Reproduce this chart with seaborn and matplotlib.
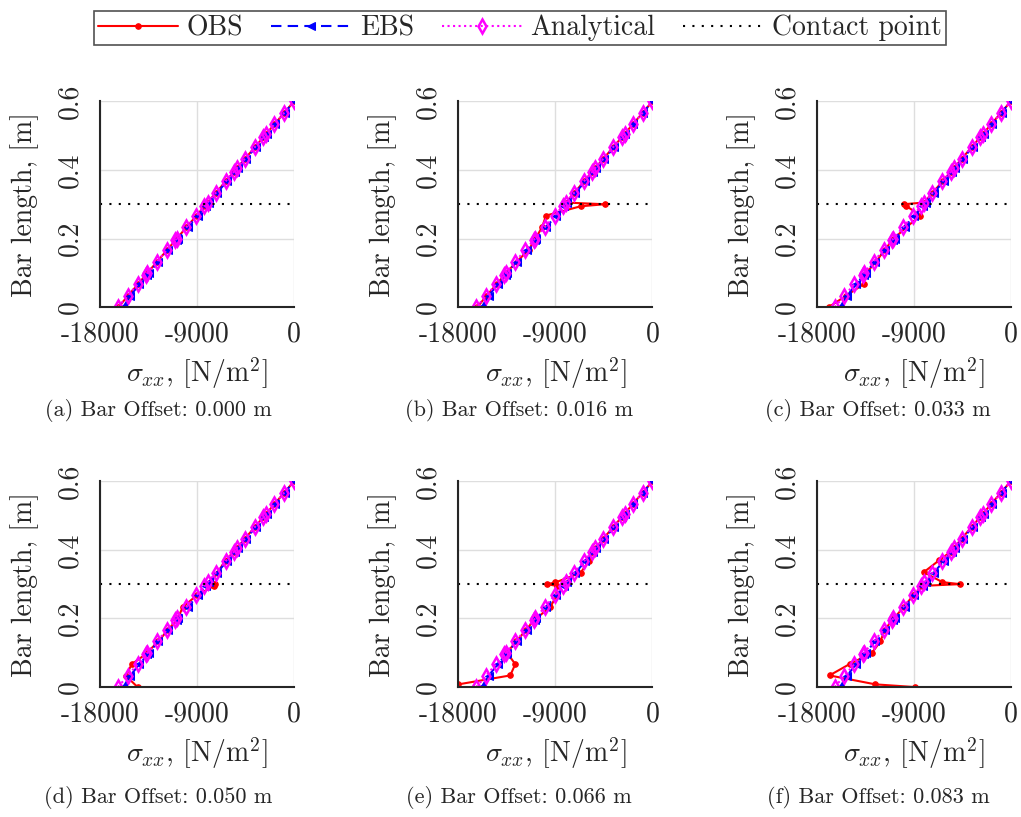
import matplotlib
matplotlib.use('Agg')
import matplotlib.pyplot as plt
import seaborn as sns

# bar nodes (m) and stress values (N/m^2)
y_nodes = [0, 0.033, 0.067, 0.095, 0.1, 0.133, 0.167, 0.195, 0.2, 0.233, 0.267, 0.295,
           0.305, 0.333, 0.367, 0.395, 0.405, 0.433, 0.467, 0.495, 0.505, 0.533, 0.567, 0.6]
analytical_x = [-16340, -15440, -14520, -13750, -13620, -12720, -11790, -11030, -10890, -9990,
                -9070, -8310, -8030, -7270, -6350, -5580, -5310, -4550, -3620, -2860, -2590,
                -1830, -900, 0]
ebs_x = [-15850, -15200, -14350, -13600, -13480, -12580, -11650, -10900, -10760, -9860, -8940,
         -8180, -7900, -7150, -6230, -5470, -5200, -4450, -3530, -2780, -2510, -1760, -860, 0]

upper_y = [0.333, 0.367, 0.395, 0.405, 0.433, 0.467, 0.495, 0.505, 0.533, 0.567, 0.6]
upper_x = [-7260, -6330, -5570, -5300, -4540, -3610, -2850, -2580, -1820, -890, 0]

obs_a_y = y_nodes
obs_a_x = [-16300, -15420, -14480, -13740, -13600, -12700, -11770, -11010, -10880, -9980, -9050,
           -8280, -8040, -7260, -6330, -5570, -5300, -4540, -3610, -2850, -2580, -1820, -890, 0]

obs_b_y = [0, 0.033, 0.067, 0.095, 0.1, 0.133, 0.167, 0.195, 0.2, 0.233, 0.267, 0.294, 0.3, 0.305] + upper_y
obs_b_x = [-16250, -15400, -14450, -13700, -13550, -12600, -11450, -11000, -10850, -10240,
           -9870, -6670, -4440, -8030] + upper_x

obs_c_y = [0, 0.033, 0.067, 0.095, 0.1, 0.133, 0.167, 0.195, 0.2, 0.233, 0.267, 0.295, 0.3, 0.305] + upper_y
obs_c_x = [-16910, -15300, -13660, -13500, -13400, -12500, -11700, -11000, -10850, -9700,
           -8380, -9700, -9930, -8050] + upper_x

obs_d_y = [0, 0.033, 0.067, 0.095, 0.1, 0.133, 0.167, 0.195, 0.2, 0.233, 0.267, 0.295, 0.3, 0.305,
           0.333, 0.367, 0.395, 0.405, 0.433, 0.467, 0.495, 0.505, 0.533, 0.567, 0.6]
obs_d_x = [-14520, -15600, -15050, -13800, -13650, -12600, -11700, -10900, -10800, -10320,
           -9050, -7400, -7370, -7700, -7100, -6430, -5580, -5310, -4550, -3620, -2860, -2590,
           -1830, -900, 0]

obs_e_y = [0.008, 0.034, 0.067, 0.1, 0.133, 0.167, 0.195, 0.2, 0.233, 0.267, 0.295, 0.3, 0.305,
           0.333, 0.367, 0.395, 0.405, 0.433, 0.467, 0.495, 0.505, 0.533, 0.567, 0.6]
obs_e_x = [-18000, -13190, -12725, -13500, -12650, -11700, -11000, -10800, -9470, -8900, -8900,
           -9780, -9000, -6670, -5900, -5450, -5250, -4550, -3620, -2860, -2590, -1830, -900, 0]

obs_f_y = [0, 0.008, 0.034, 0.067, 0.1, 0.133, 0.167, 0.195, 0.2, 0.233, 0.267, 0.295, 0.3, 0.306,
           0.335, 0.369, 0.395, 0.405, 0.433, 0.467, 0.495, 0.505, 0.533, 0.567, 0.6]
obs_f_x = [-8850, -12570, -16820, -14960, -12880, -12100, -11700, -11000, -10850, -9950, -9050,
           -8200, -4720, -6360, -8070, -6670, -5550, -5300, -4550, -3620, -2860, -2590, -1830,
           -900, 0]

obs_y_all = [obs_a_y, obs_b_y, obs_c_y, obs_d_y, obs_e_y, obs_f_y]
obs_x_all = [obs_a_x, obs_b_x, obs_c_x, obs_d_x, obs_e_x, obs_f_x]
offsets = ['0.000', '0.016', '0.033', '0.050', '0.066', '0.083']
letters = ['a', 'b', 'c', 'd', 'e', 'f']
contact_y = 0.3
x_ticks = [-18000, -9000, 0]
x_ticklabels = ['-18000', '-9000', '0']
y_ticks = [0, 0.2, 0.4, 0.6]
y_ticklabels = ['0', '0.2', '0.4', '0.6']

sns.set_style('white')
plt.rcParams['font.family'] = ['cmr10', 'DejaVu Serif']
plt.rcParams['mathtext.fontset'] = 'cm'
plt.rcParams['axes.unicode_minus'] = False

fig = plt.figure(figsize=(10.21, 8.17), dpi=100)

lefts = [0.098, 0.449, 0.800]
bottoms = [0.624, 0.159]
caption_x = [0.155, 0.508, 0.860]
caption_y = [0.497, 0.024]

for i in range(6):
    row, col = divmod(i, 3)
    ax = fig.add_axes([lefts[col], bottoms[row], 0.190, 0.252])
    sns.lineplot(x=obs_x_all[i], y=obs_y_all[i], sort=False, estimator=None, ax=ax,
                 color='red', lw=1.5, marker='o', markersize=4, mec='red', label='OBS')
    sns.lineplot(x=ebs_x, y=y_nodes, sort=False, estimator=None, ax=ax,
                 color='blue', lw=1.5, ls=(0, (5, 3)), marker='<', markersize=6, mec='blue',
                 label='EBS')
    sns.lineplot(x=analytical_x, y=y_nodes, sort=False, estimator=None, ax=ax,
                 color='magenta', lw=1.5, ls=':', marker='d', markersize=7, mfc='none',
                 mec='magenta', mew=1.8, label='Analytical')
    ax.axhline(contact_y, color='black', lw=1.5, ls=(0, (1, 3.5)), label='Contact point')

    ax.set_xlim(-18000, 0)
    ax.set_ylim(0, 0.6)
    ax.set_xticks(x_ticks)
    ax.set_xticklabels(x_ticklabels)
    ax.set_yticks(y_ticks)
    ax.set_yticklabels(y_ticklabels, rotation=90, va='center')
    ax.grid(True, color='0.87', lw=1)
    ax.tick_params(labelsize=20, direction='in', length=4, width=1, colors='0.15')
    ax.tick_params(axis='x', pad=10)
    ax.tick_params(axis='y', pad=12)
    for s in ['top', 'right']:
        ax.spines[s].set_visible(False)
    for s in ['left', 'bottom']:
        ax.spines[s].set_color('0.15')
        ax.spines[s].set_linewidth(1.5)
    ax.set_xlabel(r'$\sigma_{xx}$, [N/m$^2$]', fontsize=20)
    ax.set_ylabel('Bar length, [m]', fontsize=20)
    ax.xaxis.set_label_coords(0.5, -0.235)
    ax.yaxis.set_label_coords(-0.315, 0.5)
    ax.get_legend().remove()
    fig.text(caption_x[col], caption_y[row], f'({letters[i]}) Bar Offset: {offsets[i]} m',
             ha='center', va='center', fontsize=16)
    if i == 0:
        handles, labels = ax.get_legend_handles_labels()

leg = fig.legend(handles, labels, loc='upper center', bbox_to_anchor=(0.509, 1.004), ncol=4,
                 fontsize=20, frameon=True, fancybox=False, edgecolor='0.15',
                 handlelength=2.9, handletextpad=0.3, columnspacing=1.0, borderpad=0.15,
                 numpoints=1)
leg.get_frame().set_linewidth(1.2)

fig.savefig('out.png', dpi=100)
